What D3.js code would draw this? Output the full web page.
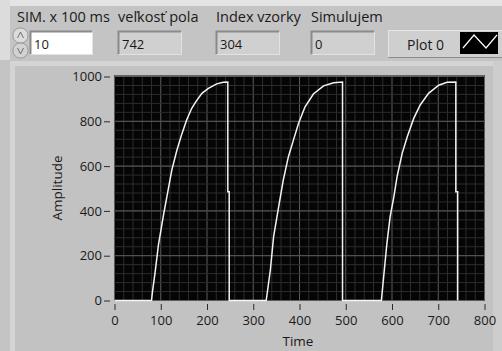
<!DOCTYPE html>
<html>
<head>
<meta charset="utf-8">
<script src="https://cdn.jsdelivr.net/npm/d3@7"></script>
<style>
  body { margin: 0; background: #c4c4c4; }
  svg { display: block; font-family: "Open Sans", sans-serif; }
</style>
</head>
<body>
<script>
// data: [time, amplitude]
const cycle1 = [[0,0],[80,0],[82,37],[88,129],[95,248],[106,382],[118,516],[124,583],[135,672],[146,746],[156,806],[167,858],[176,888],[189,925],[203,947],[221,967],[235,974],[245,975],[245,486],[248,486],[248,0]];
const cycle2 = [[248,0],[328,0],[337,136],[344,285],[355,419],[365,538],[376,642],[387,717],[398,791],[412,865],[430,922],[452,958],[474,972],[493,975],[493,0]];
const cycle3 = [[493,0],[577,0],[582,106],[589,255],[596,374],[604,463],[611,553],[622,657],[633,731],[647,813],[661,873],[679,925],[701,961],[719,974],[738,975],[738,486],[742,486],[742,0]];

const xTicks = [0, 100, 200, 300, 400, 500, 600, 700, 800];
const yTicks = [0, 200, 400, 600, 800, 1000];

// controls on top
const controlLabels = ["SIM. x 100 ms", "veľkosť pola", "Index vzorky", "Simulujem"];
const controlValues = ["10", "742", "304", "0"];
const legendName = "Plot 0";

const W = 502, H = 351;

const svg = d3.select("body")
        .append("svg")
        .attr("width", W)
        .attr("height", H)

// fond
svg.append("rect").attr("width", W).attr("height", H).attr("fill", "#c4c4c4")
svg.append("rect").attr("width", W).attr("height", 6).attr("fill", "#e4e4e4")
svg.append("rect").attr("width", 10).attr("height", 60).attr("fill", "#dcdcdc")

// panneau du graphe
svg.append("rect").attr("x", 10).attr("y", 61).attr("width", 484).attr("height", 300).attr("fill", "#d4d4d4")
svg.append("rect").attr("x", 15).attr("y", 66).attr("width", 478).attr("height", 300).attr("fill", "#c2c2c2")
svg.append("rect").attr("x", 493).attr("y", 61).attr("width", 9).attr("height", 300).attr("fill", "#cdcdcd")

// labels des contrôles
const labelX = [17, 118, 216, 311];
const boxX = [30, 118, 216, 311];
const boxW = [63, 64, 64, 64];

svg.selectAll(".lbl")
        .data(controlLabels)
        .enter()
        .append("text")
                .attr("class", "lbl")
                .attr("x", (d, i) => labelX[i])
                .attr("y", 22)
                .attr("font-size", 14.5)
                .attr("fill", "#1a1a1a")
                .text(d => d)

const boxes = svg.selectAll(".box")
        .data(controlValues)
        .enter()
        .append("g")
                .attr("class", "box")
                .attr("transform", (d, i) => `translate(${boxX[i]},31)`)

boxes.append("rect")
        .attr("width", (d, i) => boxW[i])
        .attr("height", 24)
        .attr("fill", (d, i) => i === 0 ? "#ffffff" : "#d0d0d0")
boxes.append("path")
        .attr("d", (d, i) => `M0.5,23.5 V0.5 H${boxW[i] - 0.5}`)
        .attr("fill", "none").attr("stroke", "#8a8a8a").attr("stroke-width", 2)
boxes.append("path")
        .attr("d", (d, i) => `M${boxW[i] - 0.5},0.5 V23.5 H0.5`)
        .attr("fill", "none").attr("stroke", "#e2e2e2").attr("stroke-width", 1)
boxes.append("text")
        .attr("x", 4)
        .attr("y", 18)
        .attr("font-size", 13)
        .attr("fill", "#1a1a1a")
        .text(d => d)

// spinner
const spin = svg.append("g").attr("transform", "translate(13,28)")
spin.append("rect").attr("x", 0).attr("y", 0).attr("width", 15).attr("height", 15).attr("rx", 7).attr("fill", "#dcdcdc").attr("stroke", "#9a9a9a")
spin.append("rect").attr("x", 0).attr("y", 15).attr("width", 15).attr("height", 15).attr("rx", 7).attr("fill", "#d2d2d2").attr("stroke", "#9a9a9a")
spin.append("path").attr("d", "M4.5,10 L7.5,4 L10.5,10").attr("fill", "none").attr("stroke", "#707070")
spin.append("path").attr("d", "M4.5,20 L7.5,26 L10.5,20").attr("fill", "none").attr("stroke", "#707070")

// légende
const leg = svg.append("g").attr("transform", "translate(388,30)")
leg.append("rect").attr("width", 114).attr("height", 28).attr("fill", "#cfcfcf")
leg.append("path").attr("d", "M0.5,27.5 V0.5 H114").attr("fill", "none").attr("stroke", "#e6e6e6")
leg.append("path").attr("d", "M0,27.5 H114").attr("fill", "none").attr("stroke", "#8c8c8c")
leg.append("text").attr("x", 19).attr("y", 20).attr("font-size", 14).attr("fill", "#1a1a1a").text(legendName)
leg.append("rect").attr("x", 72).attr("y", 2).attr("width", 38).attr("height", 22).attr("fill", "#000")
leg.append("path").attr("d", "M75,18 L86,5 L98,18 L109,5").attr("fill", "none").attr("stroke", "#fff").attr("stroke-width", 1.2)

// échelles
const x = d3.scaleLinear().domain([0, 800]).range([114.5, 484.5])
const y = d3.scaleLinear().domain([0, 1000]).range([300.5, 76.5])

// zone du graphe
svg.append("rect")
        .attr("x", x(0) - 0.5).attr("y", y(1000) - 1)
        .attr("width", x(800) - x(0) + 1).attr("height", y(0) - y(1000) + 1.5)
        .attr("fill", "#050505")

// grille
const grid = svg.append("g")
grid.selectAll(".vmin")
        .data(d3.range(0, 801, 20))
        .enter()
        .append("line")
                .attr("x1", d => x(d)).attr("x2", d => x(d))
                .attr("y1", y(1000)).attr("y2", y(0))
                .attr("stroke", d => d % 100 === 0 ? "#5c5c5c" : "#2c2c2c")
grid.selectAll(".hmin")
        .data(d3.range(0, 1001, 40))
        .enter()
        .append("line")
                .attr("y1", d => y(d)).attr("y2", d => y(d))
                .attr("x1", x(0)).attr("x2", x(800))
                .attr("stroke", "#2c2c2c")
grid.selectAll(".hmaj")
        .data(yTicks)
        .enter()
        .append("line")
                .attr("y1", d => y(d)).attr("y2", d => y(d))
                .attr("x1", x(0)).attr("x2", x(800))
                .attr("stroke", "#5c5c5c")

// courbe
const line = d3.line().x(d => x(d[0])).y(d => y(d[1]))
svg.append("path")
        .datum(cycle1.concat(cycle2.slice(1), cycle3.slice(1)))
        .attr("d", line)
        .attr("fill", "none")
        .attr("stroke", "#f4f4f4")
        .attr("stroke-width", 1.5)

// axes
const yAxis = svg.append("g")
        .attr("transform", "translate(110,0)")
        .call(d3.axisLeft(y).tickValues(yTicks).tickFormat(d3.format("d")).tickSize(6).tickPadding(2))
const xAxis = svg.append("g")
        .attr("transform", "translate(0,304)")
        .call(d3.axisBottom(x).tickValues(xTicks).tickFormat(d3.format("d")).tickSize(6).tickPadding(6))

for (const ax of [xAxis, yAxis]) {
        ax.select(".domain").remove()
        ax.selectAll("line").attr("stroke", "#2a2a2a")
        ax.selectAll("text").attr("font-size", 13).attr("fill", "#1a1a1a").attr("font-family", "Open Sans, sans-serif")
}

svg.append("text")
        .attr("x", 298).attr("y", 346)
        .attr("text-anchor", "middle")
        .attr("font-size", 13.5).attr("fill", "#1a1a1a")
        .text("Time")

svg.append("text")
        .attr("transform", "translate(62,188) rotate(-90)")
        .attr("text-anchor", "middle")
        .attr("font-size", 13.5).attr("fill", "#1a1a1a")
        .text("Amplitude")
</script>
</body>
</html>
